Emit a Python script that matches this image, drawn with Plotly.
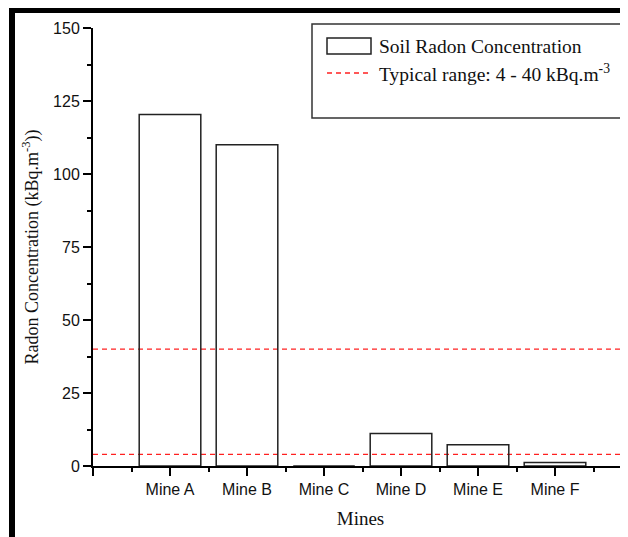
import plotly.graph_objects as go

# ---- data ----
mines = ["Mine A", "Mine B", "Mine C", "Mine D", "Mine E", "Mine F"]
radon = [120.4, 110.0, 0.0, 11.1, 7.3, 1.2]
typical_low = 4
typical_high = 40
y_ticks = [0, 25, 50, 75, 100, 125, 150]

# page body has an 8px margin -> figure drawn at (8, 8)
OFF = 8
W, H = 620, 529
ML, MR, MT, MB = 85, 0, 20, 71
PW, PH = W - ML - MR, H - MT - MB


def px(x):
    """screen x -> paper x"""
    return (x - OFF - ML) / PW


def py(y):
    """screen y -> paper y"""
    return (H - MB - (y - OFF)) / PH


xpos = list(range(len(mines)))

fig = go.Figure()
fig.add_trace(go.Bar(
    x=xpos, y=radon, width=0.8,
    marker=dict(color="rgba(0,0,0,0)", line=dict(color="#222222", width=1.5)),
    name="Soil Radon Concentration", showlegend=False,
))

for v in (typical_low, typical_high):
    fig.add_hline(y=v, line=dict(color="#ff2020", width=1.3, dash="5px,4px"), layer="below")

tickfont = dict(family="Liberation Sans, Arial, sans-serif", size=16, color="#111")
serif = "Liberation Serif, Times New Roman, serif"

fig.update_xaxes(
    range=[-1, 5.948],
    tickmode="array",
    tickvals=[-1] + xpos,
    ticktext=[""] + mines,
    ticks="outside", ticklen=8, tickwidth=1.5, tickcolor="black",
    minor=dict(tickvals=[i - 0.5 for i in range(0, 7)], ticks="outside",
               ticklen=4, tickwidth=1.5, tickcolor="black"),
    showline=True, linecolor="black", linewidth=2,
    showgrid=False, zeroline=False,
    tickfont=tickfont,
    title=dict(text="Mines", font=dict(family=serif, size=19, color="#111"), standoff=14),
)
fig.update_yaxes(
    range=[0, 150],
    tickmode="array", tickvals=y_ticks,
    ticks="outside", ticklen=8, tickwidth=1.5, tickcolor="black",
    minor=dict(tickvals=[12.5 + 25 * i for i in range(6)], ticks="outside",
               ticklen=4, tickwidth=1.5, tickcolor="black"),
    showline=True, linecolor="black", linewidth=2,
    showgrid=False, zeroline=False,
    tickfont=tickfont,
    title=dict(text="Radon Concentration (kBq.m<sup>-3</sup>))",
               font=dict(family=serif, size=18, color="#111"), standoff=10),
)

shapes = []
# black frame bands (top and left)
shapes.append(dict(type="rect", xref="paper", yref="paper",
                   x0=px(9), x1=px(640), y0=py(13), y1=py(6),
                   fillcolor="black", line=dict(width=0)))
shapes.append(dict(type="rect", xref="paper", yref="paper",
                   x0=px(9), x1=px(15), y0=py(545), y1=py(6),
                   fillcolor="black", line=dict(width=0)))
# legend box
shapes.append(dict(type="rect", xref="paper", yref="paper",
                   x0=px(312), x1=px(621), y0=py(118), y1=py(24),
                   fillcolor="white", line=dict(color="#333", width=1.5), layer="above"))
# legend symbols
shapes.append(dict(type="rect", xref="paper", yref="paper",
                   x0=px(327), x1=px(371), y0=py(54), y1=py(38),
                   fillcolor="white", line=dict(color="#222", width=1.5), layer="above"))
shapes.append(dict(type="line", xref="paper", yref="paper",
                   x0=px(327), x1=px(371), y0=py(73), y1=py(73),
                   line=dict(color="#ff2020", width=1.3, dash="5px,4px"), layer="above"))
for s in shapes:
    fig.add_shape(**s)

legend_texts = ["Soil Radon Concentration",
                f"Typical range: {typical_low} - {typical_high} kBq.m<sup>-3</sup>"]
for txt, yc in zip(legend_texts, (46, 73)):
    fig.add_annotation(x=px(377), y=py(yc), xref="paper", yref="paper",
                       text=txt, showarrow=False, xanchor="left", yanchor="middle",
                       font=dict(family=serif, size=19.5, color="#111"))

fig.update_layout(
    width=W, height=H,
    margin=dict(l=ML, r=MR, t=MT, b=MB, autoexpand=False),
    paper_bgcolor="white", plot_bgcolor="white",
    showlegend=False,
)

fig.write_html("out.html")
